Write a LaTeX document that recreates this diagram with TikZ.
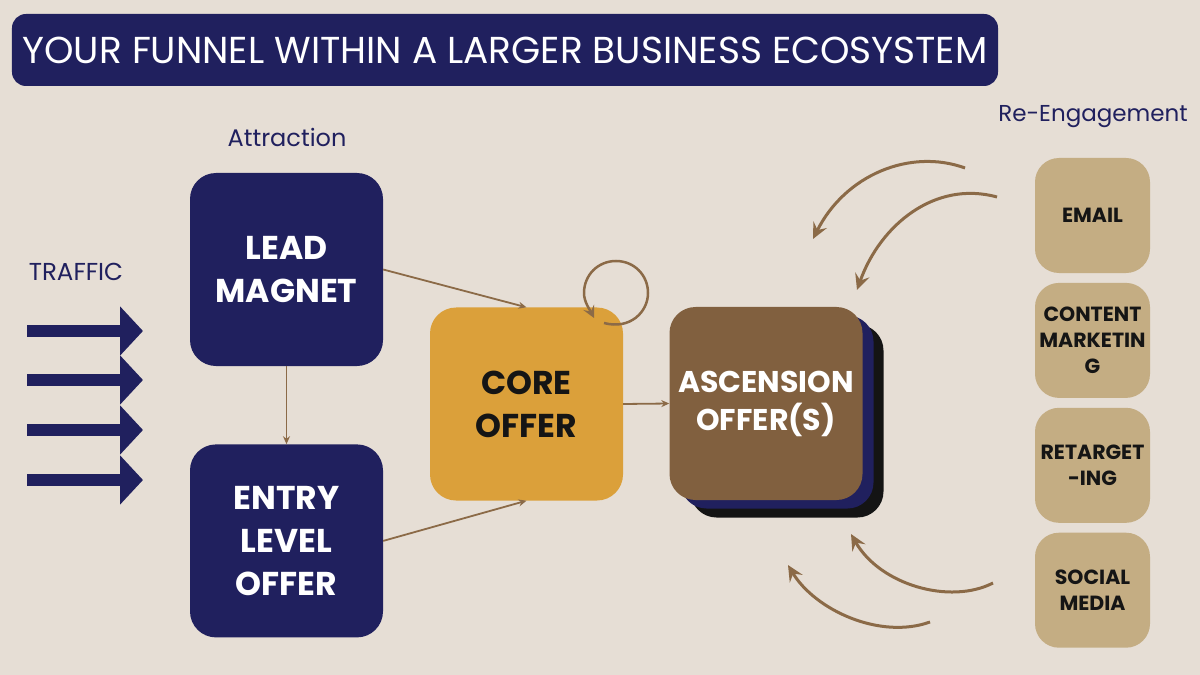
\documentclass[tikz,border=0pt]{standalone}
\usepackage{fontspec}
\setmainfont{Poppins}
\usetikzlibrary{positioning,arrows.meta}
\definecolor{bgbeige}{HTML}{E6DED5}
\definecolor{funnavy}{HTML}{20205E}
\definecolor{coregold}{HTML}{DBA03A}
\definecolor{ascbrown}{HTML}{81603F}
\definecolor{chantan}{HTML}{C4AD83}
\definecolor{arrbrown}{HTML}{8B6A47}
\definecolor{inkblack}{HTML}{151515}

\begin{document}
\begin{tikzpicture}[
    x=1bp, y=-1bp,
    >=Stealth,
    titlebar/.style={
        fill=funnavy, rounded corners=14bp,
        minimum width=986bp, minimum height=72bp, inner sep=0pt,
        text=white, font=\fontsize{37.5bp}{42bp}\selectfont
    },
    stage/.style={
        fill=#1, rounded corners=26bp,
        minimum width=193bp, minimum height=193bp, inner sep=0pt,
        align=center, text=white, font=\bfseries\fontsize{33bp}{43bp}\selectfont
    },
    channel/.style={
        fill=chantan, rounded corners=24bp,
        minimum width=115bp, minimum height=115bp, inner sep=0pt,
        align=center, text=inkblack, font=\bfseries\fontsize{20.5bp}{26bp}\selectfont
    },
    lbl/.style={text=funnavy, font=\fontsize{#1}{28bp}\selectfont},
    flow/.style={draw=funnavy, line width=12bp, -{Triangle[length=23bp, width=48bp]}},
    thinarr/.style={draw=arrbrown, line width=1.8bp, -{Stealth[length=8bp, width=7bp]}},
    curvarr/.style={draw=arrbrown, line width=3bp, -{Stealth[length=16bp, width=15bp, inset=6bp]}},
]

% === Background and frame ===
\fill[bgbeige] (0,0) rectangle (1200,675);
\useasboundingbox (0,0) rectangle (1200,675);

% === Title ===
\node[titlebar] (title) at (505,50) {YOUR FUNNEL WITHIN A LARGER BUSINESS ECOSYSTEM};

% === Labels ===
\node[lbl=24bp] (attr) at (287,137) {Attraction};
\node[lbl=24.5bp] (traffic) at (76,272) {TRAFFIC};
\node[lbl=23bp] (reeng) at (1093,117) {Re-Engagement};

% === Traffic arrows ===
\foreach \ty [count=\i] in {331,380,430,480} {
    \coordinate (tin\i) at (27,\ty);
    \coordinate (tout\i) at (143,\ty);
    \draw[flow] (tin\i) -- (tout\i);
}

% === Funnel stages ===
\node[stage=funnavy] (lead) at (286.5,269.5) {LEAD\\MAGNET};
\node[stage=funnavy, below=78bp of lead] (entry) {ENTRY\\LEVEL\\OFFER};
\node[stage=coregold, text=inkblack] (core) at (526.5,404) {CORE\\OFFER};

% Ascension stack
\node[stage=black!92] (ascback) at (787,421) {};
\node[stage=funnavy] (ascmid) at (777,412) {};
\node[stage=ascbrown, font=\bfseries\fontsize{30bp}{38bp}\selectfont] (asc) at (766,403.5) {ASCENSION\\OFFER(S)};

\draw[thinarr] (lead.east) -- (core.north);
\draw[thinarr] (entry.east) -- (core.south);
\draw[thinarr] (lead.south) -- (entry.north);
\draw[thinarr] (core.east) -- (asc.west);

% Self loop on core
\coordinate (loopa) at (604,323);
\coordinate (loopb) at (594,318);
\draw[draw=arrbrown, line width=2.5bp, -{Stealth[length=12bp, width=12bp, inset=5bp]}]
    (loopa) .. controls (630,330) and (648,312) .. (648,293)
    .. controls (648,275) and (634,261) .. (616,261)
    .. controls (598,261) and (584,275) .. (584,293)
    .. controls (584,302) and (590,310) .. (loopb);

% === Re-engagement channels ===
\node[channel] (email) at (1092.5,215.5) {EMAIL};
\node[channel, below=9.5bp of email] (content) {CONTENT\\MARKETIN\\G};
\node[channel, below=9.5bp of content] (retarget) {RETARGET\\-ING};
\node[channel, below=9.5bp of retarget] (social) {SOCIAL\\MEDIA};

% Return arrows
\coordinate (r1s) at (965,168);
\coordinate (r1t) at (813,239);
\coordinate (r2s) at (997,197);
\coordinate (r2t) at (857,290);
\coordinate (r3s) at (993,583);
\coordinate (r3t) at (851,534);
\coordinate (r4s) at (930,622);
\coordinate (r4t) at (788,565);
\draw[curvarr] (r1s) .. controls (910,148) and (845,175) .. (r1t);
\draw[curvarr] (r2s) .. controls (935,180) and (880,225) .. (r2t);
\draw[curvarr] (r3s) .. controls (950,605) and (880,585) .. (r3t);
\draw[curvarr] (r4s) .. controls (880,640) and (815,610) .. (r4t);

\end{tikzpicture}
\end{document}
